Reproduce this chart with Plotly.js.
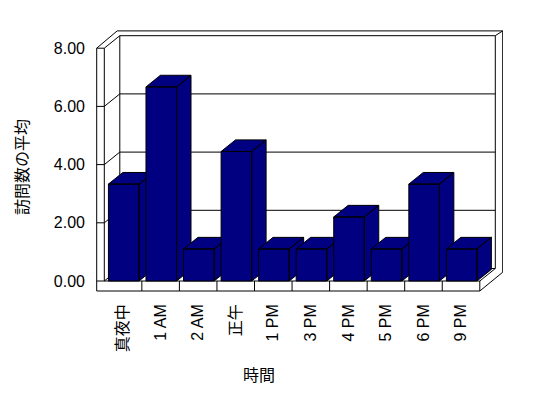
<!DOCTYPE html>
<html>
<head>
<meta charset="utf-8">
<script src="https://cdn.plot.ly/plotly-3.0.1.min.js"></script>
<style>html,body{margin:0;padding:0;background:#fff;}#chart{width:548px;height:398px;}</style>
</head>
<body>
<div id="chart"></div>
<script>
// ---- data ----
const categories = ['真夜中', '1 AM', '2 AM', '正午', '1 PM', '3 PM', '4 PM', '5 PM', '6 PM', '9 PM'];
const values = [3.33, 6.67, 1.1, 4.45, 1.1, 1.1, 2.2, 1.1, 3.33, 1.1];
const yTicks = [0, 2, 4, 6, 8];
const xTitle = '時間';
const yTitle = '訪問数の平均';

// ---- geometry (data units: 1 x unit = one category, y in value units) ----
const W = 548, H = 398;
const M = {l: 96, r: 45, t: 30, b: 106};
const CW = 37.55, PY = 29.1;          // px per category / px per value unit
const x0px = 104.3 - M.l;             // X=0 offset from plot left
const y0px = 292 - 281;               // Y=0 offset from plot bottom
const plotW = W - M.l - M.r, plotH = H - M.t - M.b;
const xRange = [-x0px / CW, (plotW - x0px) / CW];
const yRange = [-y0px / PY, (plotH - y0px) / PY];

const n = categories.length;
const yMax = yTicks[yTicks.length - 1];
const dx = 15.5 / CW, dy = 12.5 / PY;  // depth vector
const tx = 7.4 / CW, ty = 4.8 / PY;    // back wall thickness
const lw = 7.6 / CW;                   // left wall thickness
const ft = 10 / PY;                    // floor thickness
const barOff = 0.11, barW = 0.815, barDepth = 0.93;
const navy = '#000080';

// wall / floor lines
const segs = [];
function seg(a, b, c, d) { segs.push([a, b, c, d]); }
// floor front
seg(0, 0, n, 0);
seg(-lw, -ft, n, -ft);
seg(n, 0, n, -ft);
for (let i = 1; i < n; i++) seg(i, 0, i, -ft);
// floor right side
seg(n, 0, n + dx, dy);
seg(n, -ft, n + dx + tx, dy - ft + ty + 0.05);
// left wall
seg(-lw, -ft, -lw, yMax);
seg(0, 0, 0, yMax);
seg(-lw, yMax, dx - 0.07, yMax + dy + ty);
// back wall
seg(dx, dy, dx, yMax + dy);
seg(n + dx, dy, n + dx, yMax + dy);
seg(dx - 0.07, yMax + dy + ty, n + dx + tx, yMax + dy + ty);
seg(n + dx, yMax + dy, n + dx + tx, yMax + dy + ty);
seg(n + dx + tx, yMax + dy + ty, n + dx + tx, dy - ft + ty + 0.05);
// gridlines: tick on left wall face, diagonal on side wall, line on back wall
yTicks.forEach(v => {
  seg(-lw, v, 0, v);
  seg(0, v, dx, v + dy);
  seg(dx, v + dy, n + dx, v + dy);
});

const shapes = segs.map(s => ({
  type: 'line', xref: 'x', yref: 'y', x0: s[0], y0: s[1], x1: s[2], y1: s[3],
  line: {color: '#000', width: 1}, layer: 'below'
}));

// bars as 3D boxes (side, top, front), drawn left to right
const traces = values.map((v, i) => {
  const xl = i + barOff, xr = i + barOff + barW;
  const ddx = dx * barDepth, ddy = dy * barDepth;
  const xs = [xr, xr + ddx, xr + ddx, xr, xr, null,
              xl, xr, xr + ddx, xl + ddx, xl, null,
              xl, xr, xr, xl, xl];
  const ys = [0, ddy, v + ddy, v, 0, null,
              v, v, v + ddy, v + ddy, v, null,
              0, 0, v, v, 0];
  return {
    type: 'scatter', mode: 'lines', x: xs, y: ys, fill: 'toself',
    fillcolor: navy, line: {color: '#000', width: 1}, hoverinfo: 'skip',
    showlegend: false, connectgaps: false
  };
});

const font = {family: '"Liberation Sans", Arial, "Noto Sans CJK JP", sans-serif', size: 16, color: '#000'};

const layout = {
  width: W, height: H,
  margin: M,
  paper_bgcolor: '#fff', plot_bgcolor: 'rgba(0,0,0,0)',
  font: font,
  showlegend: false,
  xaxis: {
    range: xRange, showgrid: false, zeroline: false, showline: false,
    tickmode: 'array', tickvals: categories.map((c, i) => i + 0.5), ticktext: categories,
    tickangle: -90, ticks: '', ticklabelstandoff: 8, tickfont: font, fixedrange: true
  },
  yaxis: {
    range: yRange, showgrid: false, zeroline: false, showline: false,
    tickmode: 'array', tickvals: yTicks, tickformat: '.2f', ticks: '',
    ticklabelstandoff: 10, tickfont: font, fixedrange: true
  },
  shapes: shapes,
  annotations: [
    {text: xTitle, xref: 'paper', yref: 'paper', x: (258.8 - M.l) / plotW, y: (M.t + plotH - 375.3) / plotH,
     xanchor: 'center', yanchor: 'middle', showarrow: false, font: font},
    {text: yTitle, xref: 'paper', yref: 'paper', x: (23 - M.l) / plotW, y: (M.t + plotH - 167) / plotH,
     xanchor: 'center', yanchor: 'middle', showarrow: false, textangle: -90, font: font}
  ]
};

Plotly.newPlot('chart', traces, layout, {staticPlot: true, displayModeBar: false});
</script>
</body>
</html>
